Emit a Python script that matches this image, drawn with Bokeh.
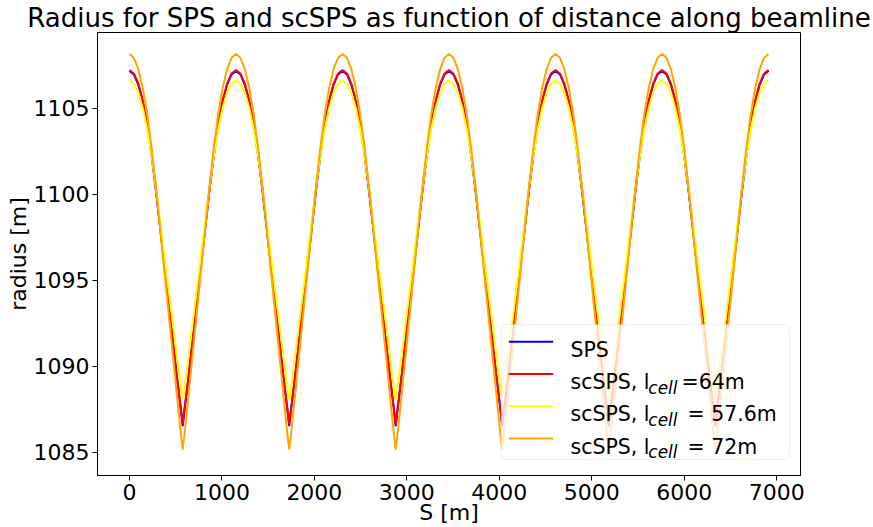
from bokeh.plotting import figure
from bokeh.models import Range1d, FixedTicker, BoxAnnotation, Label
from bokeh.embed import file_html
from bokeh.resources import INLINE

# ---------------- data ----------------
PERIOD_LENGTH = 1152          # one sextant [m]
N_PERIODS = 6

# positions inside one sextant [m]
S_PERIOD = [0, 48, 96, 144, 192, 240, 288, 336, 384, 432, 480, 512, 536, 556, 576,
            596, 616, 640, 672, 720, 768, 816, 864, 912, 960, 1008, 1056, 1104, 1152]

# radius [m] over one sextant
R_SPS = [1107.17, 1106.96, 1106.36, 1105.38, 1104.01, 1102.23, 1100.15, 1097.85, 1095.55,
         1093.24, 1090.95, 1089.41, 1088.34, 1087.46, 1086.52, 1087.46, 1088.34, 1089.41,
         1090.95, 1093.24, 1095.55, 1097.85, 1100.15, 1102.23, 1104.01, 1105.38, 1106.36,
         1106.96, 1107.17]
R_SC_64 = [1107.22, 1107.02, 1106.43, 1105.46, 1104.09, 1102.31, 1100.23, 1097.93, 1095.63,
           1093.32, 1091.03, 1089.49, 1088.42, 1087.55, 1086.62, 1087.55, 1088.42, 1089.49,
           1091.03, 1093.32, 1095.63, 1097.93, 1100.23, 1102.31, 1104.09, 1105.46, 1106.43,
           1107.02, 1107.22]
R_SC_576 = [1106.60, 1106.42, 1105.89, 1105.01, 1103.78, 1102.19, 1100.31, 1098.25, 1096.18,
            1094.10, 1092.05, 1090.66, 1089.65, 1088.82, 1088.06, 1088.82, 1089.65, 1090.66,
            1092.05, 1094.10, 1096.18, 1098.25, 1100.31, 1102.19, 1103.78, 1105.01, 1105.89,
            1106.42, 1106.60]
R_SC_72 = [1108.15, 1107.93, 1107.27, 1106.18, 1104.65, 1102.68, 1100.35, 1097.79, 1095.22,
           1092.65, 1090.09, 1088.37, 1087.10, 1086.05, 1085.15, 1086.05, 1087.10, 1088.37,
           1090.09, 1092.65, 1095.22, 1097.79, 1100.35, 1102.68, 1104.65, 1106.18, 1107.27,
           1107.93, 1108.15]

X_TICKS = [0, 1000, 2000, 3000, 4000, 5000, 6000, 7000]
Y_TICKS = [1085, 1090, 1095, 1100, 1105]

SERIES = [
    ("SPS", R_SPS, "#0000ff"),
    ("scSPS, l_cell=64m", R_SC_64, "#ff0000"),
    ("scSPS, l_cell = 57.6m", R_SC_576, "#ffff00"),
    ("scSPS, l_cell = 72m", R_SC_72, "#ffa500"),
]


def ring(values, is_position):
    """Repeat the sextant around the full ring (the pattern repeats six times)."""
    out = []
    for k in range(N_PERIODS):
        for v in values[:-1]:
            out.append(v + k * PERIOD_LENGTH if is_position else v)
    out.append(values[-1] + (N_PERIODS - 1) * PERIOD_LENGTH if is_position else values[-1])
    return out


S_ALL = ring(S_PERIOD, True)

# ---------------- figure ----------------
FONT = "DejaVu Sans"
p = figure(width=873, height=527, output_backend="svg", toolbar_location=None,
           x_range=Range1d(-345.6, 7257.6), y_range=Range1d(1083.65, 1109.4),
           min_border_left=97, min_border_right=73, min_border_top=30, min_border_bottom=51,
           title="Radius for SPS and scSPS as function of distance along beamline")
p.title.text_font = FONT
p.title.text_font_size = "26px"
p.title.text_font_style = "normal"
p.title.align = "center"
p.title.standoff = 0
p.title.text_color = "black"

p.xgrid.visible = False
p.ygrid.visible = False
p.outline_line_color = "black"
p.outline_line_alpha = 1
p.outline_line_width = 1
p.background_fill_color = "white"
p.border_fill_color = "white"

p.xaxis.ticker = FixedTicker(ticks=X_TICKS)
p.yaxis.ticker = FixedTicker(ticks=Y_TICKS)
p.xaxis.axis_label = "S [m]"
p.yaxis.axis_label = "radius [m]"
for ax in (p.xaxis, p.yaxis):
    ax.axis_line_color = "black"
    ax.major_tick_line_color = "black"
    ax.minor_tick_line_color = None
    ax.major_tick_out = 5
    ax.major_tick_in = 0
    ax.major_label_text_font = FONT
    ax.major_label_text_font_size = "22px"
    ax.major_label_text_color = "black"
    ax.axis_label_text_font = FONT
    ax.axis_label_text_font_size = "22px"
    ax.axis_label_text_font_style = "normal"
    ax.axis_label_text_color = "black"
p.xaxis.major_label_standoff = 3
p.xaxis.axis_label_standoff = -3
p.yaxis.major_label_standoff = 3
p.yaxis.axis_label_standoff = 0

for name, vals, color in SERIES:
    p.line(S_ALL, ring(vals, False), line_color=color, line_width=2)

# ---------------- legend (screen units relative to the plot frame) ----------------
p.add_layout(BoxAnnotation(left=403.7, right=692, bottom=16, top=151,
                           left_units="screen", right_units="screen",
                           bottom_units="screen", top_units="screen",
                           fill_color="white", fill_alpha=0.8,
                           line_color="#cccccc", line_width=1, border_radius=4))

row_line_y = [133.7, 101.5, 69.3, 37.1]
row_base_y = [125.5, 93.3, 61.1, 28.9]
tails = [None, "=64m", "= 57.6m", "= 72m"]
tail_x = [None, 584.0, 590.0, 590.0]
for i, (name, vals, color) in enumerate(SERIES):
    p.add_layout(BoxAnnotation(left=411.3, right=455.7,
                               bottom=row_line_y[i] - 1, top=row_line_y[i] + 1,
                               left_units="screen", right_units="screen",
                               bottom_units="screen", top_units="screen",
                               fill_color=color, fill_alpha=1, line_alpha=0))
    main = "SPS" if i == 0 else "scSPS, l"
    p.add_layout(Label(x=473, y=row_base_y[i], x_units="screen", y_units="screen",
                       text=main, text_font=FONT, text_font_size="20.5px",
                       text_baseline="alphabetic", text_align="left", text_color="black"))
    if i > 0:
        p.add_layout(Label(x=550.8, y=row_base_y[i] - 5.5, x_units="screen", y_units="screen",
                           text="cell", text_font=FONT, text_font_size="17px",
                           text_font_style="italic",
                           text_baseline="alphabetic", text_align="left", text_color="black"))
        p.add_layout(Label(x=tail_x[i], y=row_base_y[i], x_units="screen", y_units="screen",
                           text=tails[i], text_font=FONT, text_font_size="20.5px",
                           text_baseline="alphabetic", text_align="left", text_color="black"))

open("out.html", "w").write(file_html(p, INLINE))
